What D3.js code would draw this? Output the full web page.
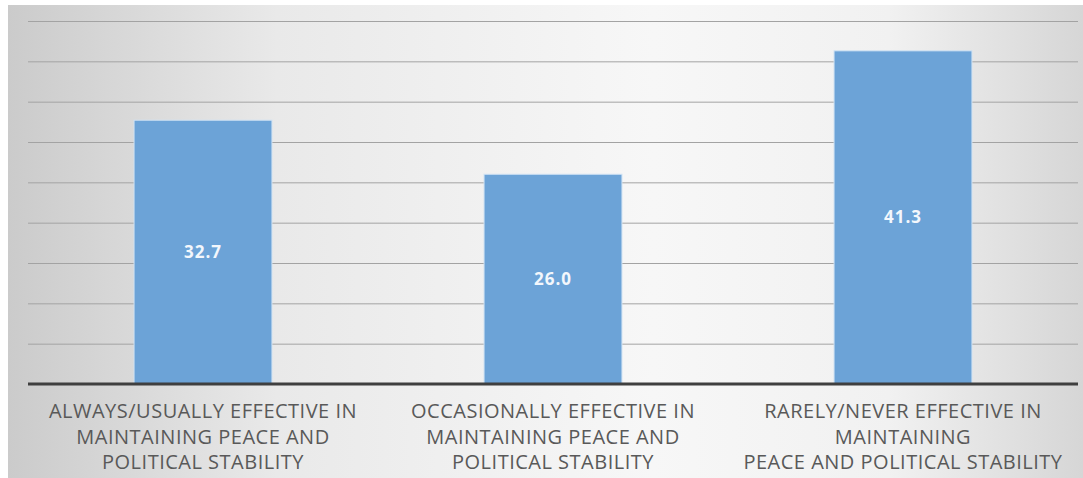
<!DOCTYPE html>
<html lang="en">
  <head>
    <meta charset="UTF-8" />
    <title>Effectiveness chart</title>
    <script src="https://d3js.org/d3.v7.min.js"></script>
    <style>
      body { margin: 0; background: #fff; }
      .bar { fill: #6ca3d7; }
      .cat { font-family: "Open Sans", sans-serif; font-size: 20px; fill: #595959; letter-spacing: 0.5px; }
      .val { font-family: "Open Sans", sans-serif; font-size: 17px; font-weight: bold; fill: #f3f7fc; letter-spacing: 1px; }
    </style>
  </head>
  <body>
    <svg width="1083" height="478"></svg>
    <script>
      var categories = [
        ["ALWAYS/USUALLY EFFECTIVE IN", "MAINTAINING PEACE AND", "POLITICAL STABILITY"],
        ["OCCASIONALLY EFFECTIVE IN", "MAINTAINING PEACE AND", "POLITICAL STABILITY"],
        ["RARELY/NEVER EFFECTIVE IN", "MAINTAINING", "PEACE AND POLITICAL STABILITY"]
      ];
      var values = [32.7, 26.0, 41.3];
      var yTicks = [5, 10, 15, 20, 25, 30, 35, 40, 45];

      var svg = d3.select("svg");

      // background gradient
      var grad = svg.append("defs").append("linearGradient")
        .attr("id", "bg").attr("x1", 0).attr("x2", 1).attr("y1", 0).attr("y2", 0);
      [["0", "#cbcbcb"], ["0.25", "#e9e9e9"], ["0.6", "#f7f7f7"], ["0.82", "#f1f1f1"], ["1", "#d6d6d6"]]
        .forEach(function (s) {
          grad.append("stop").attr("offset", s[0]).attr("stop-color", s[1]);
        });

      svg.append("rect")
        .attr("x", 8).attr("y", 5)
        .attr("width", 1075).attr("height", 473)
        .attr("fill", "url(#bg)");

      var plotLeft = 28, plotRight = 1078, plotBottom = 384, plotTop = 21;

      var x = d3.scaleBand()
        .domain(d3.range(values.length))
        .range([plotLeft, plotRight])
        .paddingInner(0.606)
        .paddingOuter(0.303);

      var y = d3.scaleLinear().domain([0, 45]).range([plotBottom, plotTop]);

      // gridlines
      svg.append("g")
        .attr("transform", "translate(" + plotLeft + ",0)")
        .call(d3.axisLeft(y).tickValues(yTicks).tickSize(-(plotRight - plotLeft)).tickFormat(""))
        .call(function (g) {
          g.select(".domain").remove();
          g.selectAll(".tick line").attr("stroke", "#a3a3a3").attr("stroke-width", 1);
        });

      // bars
      svg.selectAll(".bar")
        .data(values)
        .enter()
        .append("rect")
        .attr("class", "bar")
        .attr("x", function (d, i) { return x(i); })
        .attr("y", function (d) { return y(d); })
        .attr("width", x.bandwidth())
        .attr("height", function (d) { return plotBottom - y(d); })
        .attr("stroke", "#cfe2f4")
        .attr("stroke-width", 1);

      // value labels
      svg.selectAll(".val")
        .data(values)
        .enter()
        .append("text")
        .attr("class", "val")
        .attr("text-anchor", "middle")
        .attr("x", function (d, i) { return x(i) + x.bandwidth() / 2; })
        .attr("y", function (d) { return (y(d) + plotBottom) / 2 + 6; })
        .text(function (d) { return d.toFixed(1); });

      // x axis line
      svg.append("line")
        .attr("x1", plotLeft).attr("x2", plotRight)
        .attr("y1", plotBottom).attr("y2", plotBottom)
        .attr("stroke", "#3f3f3f")
        .attr("stroke-width", 3);

      // category labels
      var cats = svg.selectAll(".cat")
        .data(categories)
        .enter()
        .append("text")
        .attr("class", "cat")
        .attr("text-anchor", "middle");

      cats.selectAll("tspan")
        .data(function (d, i) { return d.map(function (t) { return { t: t, i: i }; }); })
        .enter()
        .append("tspan")
        .attr("x", function (d) { return x(d.i) + x.bandwidth() / 2; })
        .attr("y", function (d, j) { return 418 + j * 25.5; })
        .text(function (d) { return d.t; });
    </script>
  </body>
</html>
